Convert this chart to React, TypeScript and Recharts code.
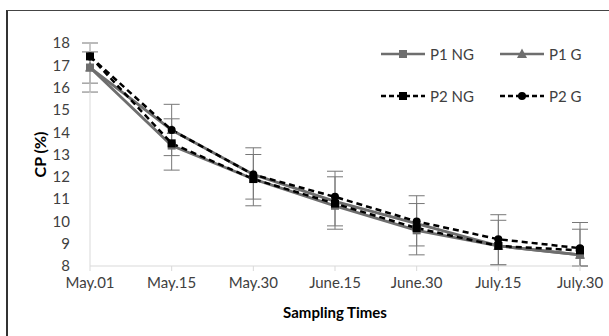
import { LineChart, Line, XAxis, YAxis, ErrorBar } from "recharts";

const times = ["May.01", "May.15", "May.30", "June.15", "June.30", "July.15", "July.30"];
const p1ng = [16.9, 13.4, 11.9, 10.7, 9.6, 8.9, 8.5];
const p1g = [16.9, 14.1, 12.1, 10.9, 9.9, 8.9, 8.5];
const p2ng = [17.4, 13.5, 11.9, 10.8, 9.7, 8.9, 8.7];
const p2g = [17.4, 14.1, 12.1, 11.1, 10.0, 9.2, 8.8];
// [lower, upper]
const p1ngErr = [[1.1, 1.1], [1.1, 1.2], [1.2, 1.1], [1.05, 1.3], [1.1, 1.2], [0.85, 1.15], [0.5, 1.15]];
const p1gErr = [[0.7, 0.7], [1.15, 1.15], [1.1, 1.2], [1.1, 1.35], [1.0, 1.25], [0.85, 1.4], [0.5, 1.45]];
const yTicks = [8, 9, 10, 11, 12, 13, 14, 15, 16, 17, 18];

const data = times.map((t, i) => ({
  name: t,
  p1ng: p1ng[i],
  p1g: p1g[i],
  p2ng: p2ng[i],
  p2g: p2g[i],
  p1ngErr: p1ngErr[i],
  p1gErr: p1gErr[i],
}));

const GRAY = "#6e6e6e";
const FONT = "Lato, 'Open Sans', sans-serif";

const Square = (color: string, s: number) => (props: any) => {
  const { cx, cy, index } = props;
  if (cx == null || cy == null) return null;
  return <rect key={index} x={cx - s / 2} y={cy - s / 2} width={s} height={s} fill={color} />;
};
const Triangle = (color: string, s: number) => (props: any) => {
  const { cx, cy, index } = props;
  if (cx == null || cy == null) return null;
  return (
    <polygon
      key={index}
      points={`${cx},${cy - s * 0.6} ${cx + s / 2},${cy + s * 0.4} ${cx - s / 2},${cy + s * 0.4}`}
      fill={color}
    />
  );
};
const Circle = (color: string, r: number) => (props: any) => {
  const { cx, cy, index } = props;
  if (cx == null || cy == null) return null;
  return <circle key={index} cx={cx} cy={cy} r={r} fill={color} />;
};

const legendItems = [
  { label: "P1 NG", color: GRAY, dash: undefined, mark: "square" },
  { label: "P1 G", color: GRAY, dash: undefined, mark: "triangle" },
  { label: "P2 NG", color: "#000", dash: "5 3", mark: "square" },
  { label: "P2 G", color: "#000", dash: "5 3", mark: "circle" },
];

const ChartLegend = () => (
  <div
    style={{
      position: "absolute",
      left: 381,
      top: 43,
      display: "grid",
      gridTemplateColumns: "119px 100px",
      rowGap: 20,
    }}
  >
    {legendItems.map((it) => (
      <div key={it.label} style={{ display: "flex", alignItems: "center", height: 22 }}>
        <svg width={46} height={14}>
          <line x1={0} y1={7} x2={44} y2={7} stroke={it.color} strokeWidth={2.5} strokeDasharray={it.dash} />
          {it.mark === "square" && <rect x={18} y={3} width={8} height={8} fill={it.color} />}
          {it.mark === "triangle" && <polygon points="22,1.5 27,11 17,11" fill={it.color} />}
          {it.mark === "circle" && <circle cx={22} cy={7} r={4} fill={it.color} />}
        </svg>
        <span style={{ fontFamily: FONT, fontSize: 15, color: "#404040", marginLeft: 3 }}>{it.label}</span>
      </div>
    ))}
  </div>
);

export default function App() {
  return (
    <div style={{ position: "absolute", left: 0, top: 0, width: 609, height: 336, background: "#fff" }}>
      <div
        style={{
          position: "absolute",
          left: 6,
          top: 10,
          width: 603,
          height: 326,
          borderLeft: "2px solid #333",
          borderTop: "1.5px solid #444",
        }}
      />
      <div style={{ position: "absolute", left: 0, top: 0 }}>
        <LineChart width={609} height={336} data={data} margin={{ top: 43, right: 29, bottom: 20, left: 40 }}>
          <XAxis
            dataKey="name"
            axisLine={{ stroke: "#d9d9d9" }}
            tickLine={{ stroke: "#d9d9d9" }}
            tickSize={5}
            tickMargin={6}
            height={50}
            tick={{ fill: "#404040", fontSize: 15, fontFamily: FONT }}
            label={{
              value: "Sampling Times",
              position: "insideBottom",
              offset: -2,
              style: { fill: "#000", fontSize: 15, fontWeight: "bold", fontFamily: FONT },
            }}
          />
          <YAxis
            domain={[8, 18]}
            ticks={yTicks}
            interval={0}
            width={50}
            axisLine={{ stroke: "#d9d9d9" }}
            tickLine={false}
            tickMargin={14}
            tick={{ fill: "#404040", fontSize: 15, fontFamily: FONT }}
            label={{
              value: "CP (%)",
              angle: -90,
              position: "insideLeft",
              offset: 0,
              dx: 0,
              style: { fill: "#000", fontSize: 16, fontWeight: "bold", fontFamily: FONT, textAnchor: "middle" },
            }}
          />
          <Line
            dataKey="p1ng"
            name="P1 NG"
            stroke={GRAY}
            strokeWidth={2.8}
            dot={Square(GRAY, 8)}
            isAnimationActive={false}
          >
            <ErrorBar dataKey="p1ngErr" width={8} stroke="#777" strokeWidth={1} direction="y" />
          </Line>
          <Line
            dataKey="p1g"
            name="P1 G"
            stroke={GRAY}
            strokeWidth={2.8}
            dot={Triangle(GRAY, 10)}
            isAnimationActive={false}
          >
            <ErrorBar dataKey="p1gErr" width={8} stroke="#777" strokeWidth={1} direction="y" />
          </Line>
          <Line
            dataKey="p2ng"
            name="P2 NG"
            stroke="#000"
            strokeWidth={2.5}
            strokeDasharray="6 4"
            dot={Square("#000", 8)}
            isAnimationActive={false}
          />
          <Line
            dataKey="p2g"
            name="P2 G"
            stroke="#000"
            strokeWidth={2.5}
            strokeDasharray="6 4"
            dot={Circle("#000", 4)}
            isAnimationActive={false}
          />
        </LineChart>
      </div>
      <ChartLegend />
    </div>
  );
}
